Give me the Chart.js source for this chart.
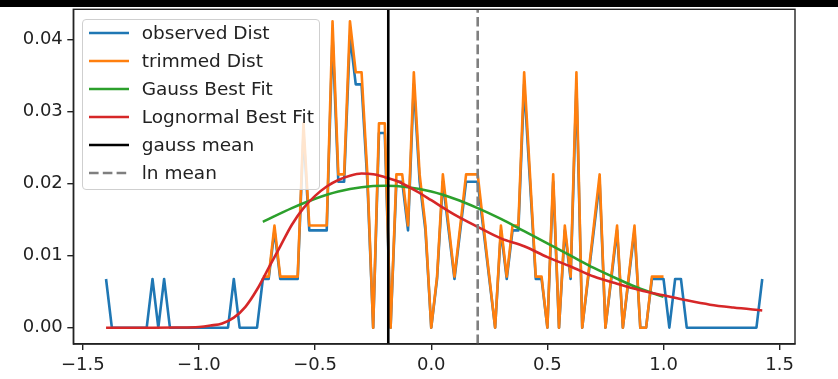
<!DOCTYPE html>
<html>
<head>
<meta charset="utf-8">
<script src="https://cdn.jsdelivr.net/npm/chart.js@4.4.1/dist/chart.umd.min.js"></script>
<style>
html,body{margin:0;padding:0;background:#fff;}
#wrap{position:relative;width:838px;height:379px;overflow:hidden;background:#fff;}
#c{position:absolute;left:0;top:0;}
#topbar{position:absolute;left:0;top:0;width:838px;height:7px;background:#000;}
#legend{position:absolute;left:81.7px;top:19.3px;width:238px;height:171px;box-sizing:border-box;border:1px solid #cfcfcf;border-radius:4px;background:rgba(255,255,255,0.8);font-family:"DejaVu Sans",sans-serif;font-size:18.5px;color:#222;}
.row{position:absolute;left:0;height:27.9px;width:100%;}
.swatch{position:absolute;left:6px;top:10.95px;}
.lbl{position:absolute;left:59px;top:0;line-height:27.9px;white-space:nowrap;}
</style>
</head>
<body>
<div id="wrap">
  <canvas id="c" width="838" height="379"></canvas>
  <div id="topbar"></div>
  <div id="legend"></div>
</div>
<script>
// ---------- data ----------
const binX = [
 -1.400,-1.375,-1.350,-1.325,-1.300,-1.275,-1.250,-1.225,-1.200,-1.175,
 -1.150,-1.125,-1.100,-1.075,-1.050,-1.025,-1.000,-0.975,-0.950,-0.925,
 -0.900,-0.875,-0.850,-0.825,-0.800,-0.775,-0.750,-0.725,-0.700,-0.675,
 -0.650,-0.625,-0.600,-0.575,-0.550,-0.525,-0.500,-0.475,-0.450,-0.425,
 -0.400,-0.375,-0.350,-0.325,-0.300,-0.275,-0.250,-0.225,-0.200,-0.175,
 -0.150,-0.125,-0.100,-0.075,-0.050,-0.025, 0.000, 0.025, 0.050, 0.075,
  0.100, 0.125, 0.150, 0.175, 0.200, 0.225, 0.250, 0.275, 0.300, 0.325,
  0.350, 0.375, 0.400, 0.425, 0.450, 0.475, 0.500, 0.525, 0.550, 0.575,
  0.600, 0.625, 0.650, 0.675, 0.700, 0.725, 0.750, 0.775, 0.800, 0.825,
  0.850, 0.875, 0.900, 0.925, 0.950, 0.975, 1.000, 1.025, 1.050, 1.075,
  1.100, 1.125, 1.150, 1.175, 1.200, 1.225, 1.250, 1.275, 1.300, 1.325,
  1.350, 1.375, 1.400, 1.425
];

const observedDist = [
 0.00676,0,0,0,0,0,0,0,0.00676,0,
 0.00676,0,0,0,0,0,0,0,0,0,
 0,0,0.00676,0,0,0,0,
 0.00676,0.00676,0.01351,0.00676,0.00676,0.00676,0.00676,0.02703,0.01351,0.01351,
 0.01351,0.01351,0.04054,0.02027,0.02027,0.04054,0.03378,0.03378,0.02027,0,
 0.02703,0.02703,0,0.02027,0.02027,0.01351,0.03378,0.02027,0.01351,0,
 0.00676,0.02027,0.01351,0.00676,0.01351,0.02027,0.02027,0.02027,0.01351,0.00676,
 0,0.01351,0.00676,0.01351,0.01351,0.03378,0.02027,0.00676,0.00676,0,
 0.02027,0,0.01351,0.00676,0.03378,0,0.00676,0.01351,0.02027,0,
 0.00676,0.01351,0,0.00676,0.01351,0,0,0.00676,0.00676,0.00676,
 0,0.00676,0.00676,0,0,0,0,0,0,0,
 0,0,0,0,0,0,0.00676
];

// trimmed distribution covers bins 27 .. 96 of binX
const trimmedStart = 27;
const trimmedDist = [
 0.00709,0.00709,0.01418,0.00709,0.00709,0.00709,0.00709,0.02837,0.01418,0.01418,
 0.01418,0.01418,0.04255,0.02128,0.02128,0.04255,0.03546,0.03546,0.02128,0,
 0.02837,0.02837,0,0.02128,0.02128,0.01418,0.03546,0.02128,0.01418,0,
 0.00709,0.02128,0.01418,0.00709,0.01418,0.02128,0.02128,0.02128,0.01418,0.00709,
 0,0.01418,0.00709,0.01418,0.01418,0.03546,0.02128,0.00709,0.00709,0,
 0.02128,0,0.01418,0.00709,0.03546,0,0.00709,0.01418,0.02128,0,
 0.00709,0.01418,0,0.00709,0.01418,0,0,0.00709,0.00709,0.00709
];

const gaussX = [-0.725,-0.6,-0.5,-0.4,-0.3,-0.2,-0.1,0.0,0.1,0.2,0.3,0.4,0.5,0.6,0.7,0.8,0.9,1.0];
const gaussY = [0.0147,0.0166,0.0179,0.0189,0.0195,0.0197,0.0195,0.0189,0.0179,0.0166,0.0151,0.0134,0.0117,0.0100,0.0083,0.0068,0.0054,0.0043];

const lognX = [-1.4,-1.2,-1.1,-1.0,-0.95,-0.9,-0.85,-0.8,-0.75,-0.7,-0.65,-0.6,-0.55,-0.5,-0.45,-0.4,-0.35,-0.3,-0.25,-0.2,-0.15,-0.1,-0.05,0.0,0.1,0.2,0.3,0.4,0.5,0.6,0.7,0.8,0.9,1.0,1.1,1.2,1.3,1.425];
const lognY = [0,0,0.00002,0.0001,0.0003,0.0006,0.0014,0.0029,0.0053,0.0083,0.0113,0.0143,0.0166,0.0183,0.0196,0.0205,0.0211,0.0214,0.0213,0.0209,0.0204,0.0196,0.0187,0.0177,0.0157,0.0140,0.0124,0.0113,0.0098,0.0085,0.0071,0.0061,0.0052,0.0045,0.0038,0.0032,0.0028,0.0024];

const gaussMean = -0.185;
const lnMean = 0.2;

const xTicks = [-1.5,-1.0,-0.5,0.0,0.5,1.0,1.5];
const yTicks = [0.00,0.01,0.02,0.03,0.04];
const xRange = [-1.541, 1.566];
const yRange = [-0.00226, 0.0442];

const labels = ["observed Dist","trimmed Dist","Gauss Best Fit","Lognormal Best Fit","gauss mean","ln mean"];
const colors = ["#1f77b4","#ff7f0e","#2ca02c","#d62728","#000000","#7f7f7f"];

// ---------- build chart ----------
const pts = (xs, ys) => xs.map((x, i) => ({x: x, y: ys[i]}));
const trimmedX = binX.slice(trimmedStart, trimmedStart + trimmedDist.length);
const LW = 2.6;
const FONT = '"DejaVu Sans", sans-serif';

const datasets = [
  {label: labels[0], data: pts(binX, observedDist), borderColor: colors[0], order: 6},
  {label: labels[1], data: pts(trimmedX, trimmedDist), borderColor: colors[1], order: 5},
  {label: labels[2], data: pts(gaussX, gaussY), borderColor: colors[2], order: 4, cubicInterpolationMode: 'monotone'},
  {label: labels[3], data: pts(lognX, lognY), borderColor: colors[3], order: 3, cubicInterpolationMode: 'monotone'},
  {label: labels[4], data: [{x: gaussMean, y: yRange[0]}, {x: gaussMean, y: yRange[1]}], borderColor: colors[4], order: 2},
  {label: labels[5], data: [{x: lnMean, y: yRange[0]}, {x: lnMean, y: yRange[1]}], borderColor: colors[5], borderDash: [9.6, 4.2], order: 1}
].map(d => Object.assign({
  borderWidth: LW, pointRadius: 0, pointHoverRadius: 0, fill: false, tension: 0,
  borderJoinStyle: 'round', borderCapStyle: 'butt', showLine: true
}, d));

const framePlugin = {
  id: 'frame',
  afterDatasetsDraw(chart) {
    const a = chart.chartArea, ctx = chart.ctx;
    ctx.save();
    ctx.strokeStyle = '#222';
    ctx.lineWidth = 1.4;
    ctx.strokeRect(a.left, a.top, a.right - a.left, a.bottom - a.top);
    ctx.restore();
  }
};

const fmtX = v => (v < 0 ? '\u2212' : '') + Math.abs(v).toFixed(1);
const fmtY = v => v.toFixed(2);

const chart = new Chart(document.getElementById('c'), {
  type: 'line',
  data: {datasets: datasets},
  options: {
    responsive: false,
    animation: false,
    devicePixelRatio: 1,
    parsing: true,
    layout: {padding: {left: 0, right: 43, top: 9.3, bottom: 0}},
    plugins: {legend: {display: false}, tooltip: {enabled: false}},
    scales: {
      x: {
        type: 'linear', min: xRange[0], max: xRange[1],
        afterBuildTicks: s => { s.ticks = xTicks.map(v => ({value: v})); },
        afterFit: s => { s.height = 35; s.paddingLeft = 0; s.paddingRight = 0; },
        ticks: {autoSkip: false, maxRotation: 0, padding: 5, color: '#222', font: {family: FONT, size: 18}, callback: v => fmtX(v)},
        grid: {drawOnChartArea: false, drawTicks: true, tickLength: 6, color: '#222', lineWidth: 1.4},
        border: {display: true, color: '#222', width: 1.4}
      },
      y: {
        type: 'linear', min: yRange[0], max: yRange[1],
        afterBuildTicks: s => { s.ticks = yTicks.map(v => ({value: v})); },
        afterFit: s => { s.width = 73.3; s.paddingTop = 0; s.paddingBottom = 0; },
        ticks: {autoSkip: false, padding: 4.5, color: '#222', font: {family: FONT, size: 18}, callback: v => fmtY(v)},
        grid: {drawOnChartArea: false, drawTicks: true, tickLength: 6, color: '#222', lineWidth: 1.4},
        border: {display: true, color: '#222', width: 1.4}
      }
    }
  },
  plugins: [framePlugin]
});

// ---------- legend (HTML text) ----------
const leg = document.getElementById('legend');
chart.data.datasets.forEach((d, i) => {
  const row = document.createElement('div');
  row.className = 'row';
  row.style.top = (i * 27.9 - 1) + 'px';
  const dash = d.borderDash ? ' stroke-dasharray="9.6 4.2"' : '';
  row.innerHTML = '<svg class="swatch" width="40" height="6"><line x1="0" y1="3" x2="40" y2="3" stroke="' + d.borderColor + '" stroke-width="' + LW + '"' + dash + '/></svg>' +
                  '<span class="lbl"></span>';
  row.querySelector('.lbl').textContent = d.label;
  leg.appendChild(row);
});
</script>
</body>
</html>
